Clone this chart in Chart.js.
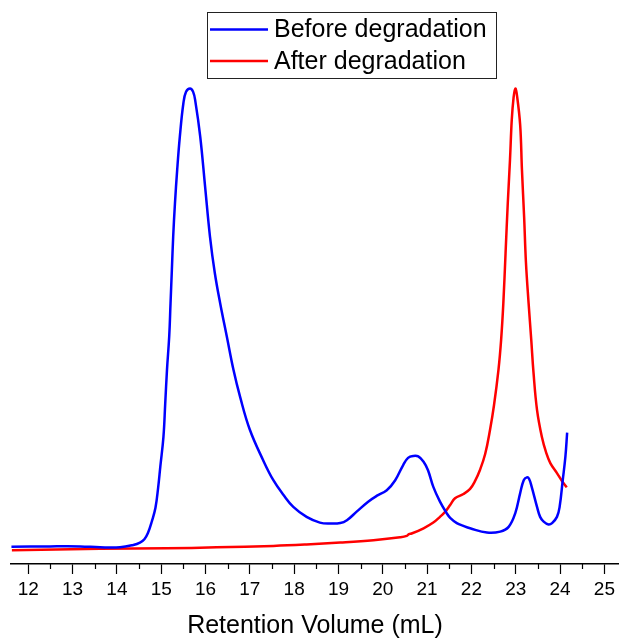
<!DOCTYPE html>
<html>
<head>
<meta charset="utf-8">
<script src="https://cdn.jsdelivr.net/npm/chart.js@4/dist/chart.umd.min.js"></script>
<style>
  html,body{margin:0;padding:0;background:#fff}
  #wrap{position:relative;width:619px;height:641px}
</style>
</head>
<body>
<div id="wrap"><canvas id="c" width="619" height="641"></canvas></div>
<script>
/* GPC traces before / after degradation.
   y is normalised detector response (peak ~1). */
const xTicks = [12, 13, 14, 15, 16, 17, 18, 19, 20, 21, 22, 23, 24, 25];
const seriesNames = ["Before degradation", "After degradation"];

const beforeX = [11.62, 12.49, 13.17, 13.62, 14.07, 14.37, 14.52, 14.62, 14.70, 14.79, 14.87, 14.93, 14.98, 15.05,
  15.09, 15.13, 15.18, 15.21, 15.24, 15.27, 15.31, 15.36, 15.42, 15.50, 15.56, 15.65, 15.72, 15.77, 15.88, 15.99,
  16.10, 16.21, 16.33, 16.48, 16.63, 16.78, 17.00, 17.30, 17.53, 17.76, 17.98, 18.28, 18.58, 18.81, 19.04, 19.19,
  19.41, 19.67, 19.86, 20.09, 20.28, 20.46, 20.57, 20.69, 20.80, 20.92, 21.02, 21.14, 21.29, 21.44, 21.52, 21.67,
  21.82, 21.97, 22.35, 22.65, 22.84, 22.99, 23.10, 23.18, 23.25, 23.30, 23.36, 23.48, 23.55, 23.63, 23.74, 23.82,
  23.93, 23.99, 24.06, 24.12, 24.16];
const beforeY = [0.036, 0.037, 0.037, 0.035, 0.035, 0.040, 0.045, 0.052, 0.065, 0.090, 0.118, 0.160, 0.205, 0.267,
  0.337, 0.408, 0.478, 0.548, 0.618, 0.688, 0.758, 0.828, 0.898, 0.968, 0.992, 0.999, 0.992, 0.972, 0.898, 0.793,
  0.688, 0.611, 0.548, 0.478, 0.408, 0.351, 0.282, 0.218, 0.176, 0.145, 0.120, 0.099, 0.087, 0.085, 0.086, 0.092,
  0.110, 0.131, 0.143, 0.155, 0.176, 0.208, 0.223, 0.227, 0.226, 0.215, 0.197, 0.162, 0.131, 0.107, 0.097, 0.086,
  0.080, 0.075, 0.066, 0.068, 0.078, 0.107, 0.149, 0.176, 0.182, 0.179, 0.162, 0.120, 0.099, 0.089, 0.083, 0.086,
  0.099, 0.120, 0.176, 0.225, 0.276];

const afterX = [11.63, 13.62, 15.12, 16.25, 17.53, 18.28, 19.04, 19.79, 20.39, 20.54, 20.59, 20.65, 20.92, 21.14,
  21.29, 21.41, 21.52, 21.63, 21.82, 21.97, 22.08, 22.19, 22.31, 22.42, 22.51, 22.61, 22.67, 22.72, 22.77, 22.82,
  22.87, 22.91, 22.95, 22.99, 23.03, 23.10, 23.14, 23.19, 23.23, 23.29, 23.35, 23.40, 23.48, 23.59, 23.69, 23.78,
  23.93, 24.04, 24.15];
const afterY = [0.029, 0.032, 0.033, 0.035, 0.038, 0.041, 0.045, 0.050, 0.056, 0.059, 0.063, 0.064, 0.075, 0.087,
  0.099, 0.110, 0.124, 0.138, 0.147, 0.158, 0.174, 0.197, 0.231, 0.282, 0.334, 0.408, 0.471, 0.548, 0.653, 0.758,
  0.849, 0.933, 0.979, 0.999, 0.983, 0.922, 0.828, 0.727, 0.634, 0.548, 0.471, 0.403, 0.324, 0.267, 0.233, 0.212,
  0.191, 0.175, 0.161];

const pts = (xs, ys) => xs.map((x, i) => ({ x, y: ys[i] }));
const FONT = "'Liberation Sans', Arial, sans-serif";

// minor ticks at the half-steps, drawn against the x scale
const minorTicks = {
  id: "minorTicks",
  afterDraw(chart) {
    const sc = chart.scales.x, ctx = chart.ctx, y0 = chart.chartArea.bottom;
    ctx.save();
    ctx.strokeStyle = "#000"; ctx.lineWidth = 1.2;
    xTicks.forEach(v => {
      const m = v - 0.5;
      if (m < sc.min) return;
      const px = Math.round(sc.getPixelForValue(m)) + 0.5;
      ctx.beginPath(); ctx.moveTo(px, y0); ctx.lineTo(px, y0 + 5); ctx.stroke();
    });
    ctx.restore();
  },
};

// boxed legend in the top middle
const boxLegend = {
  id: "boxLegend",
  afterDraw(chart) {
    const ctx = chart.ctx;
    const cols = chart.data.datasets.map(d => d.borderColor);
    ctx.save();
    ctx.fillStyle = "#fff";
    ctx.fillRect(207, 12, 289, 66);
    ctx.strokeStyle = "#222"; ctx.lineWidth = 1;
    ctx.strokeRect(207.5, 12.5, 289, 66);
    ctx.font = "25px " + FONT;
    ctx.textBaseline = "middle";
    seriesNames.forEach((name, i) => {
      const y = 29.5 + i * 31.5;
      ctx.strokeStyle = cols[i]; ctx.lineWidth = 2.5;
      ctx.beginPath(); ctx.moveTo(210, y); ctx.lineTo(268, y); ctx.stroke();
      ctx.fillStyle = "#000";
      ctx.fillText(name, 274, y + 1);
    });
    ctx.restore();
  },
};

new Chart(document.getElementById("c"), {
  type: "line",
  data: {
    datasets: [
      { label: seriesNames[0], data: pts(beforeX, beforeY), borderColor: "#0000ff", borderWidth: 2.5,
        pointRadius: 0, fill: false, tension: 0.4 },
      { label: seriesNames[1], data: pts(afterX, afterY), borderColor: "#ff0000", borderWidth: 2.5,
        pointRadius: 0, fill: false, tension: 0.4 },
    ],
  },
  options: {
    responsive: false, animation: false,
    layout: { padding: { left: 11, right: 0, top: 0, bottom: 0 } },
    plugins: { legend: { display: false }, tooltip: { enabled: false } },
    scales: {
      x: {
        type: "linear", min: 11.61, max: 25.33,
        afterBuildTicks(sc) { sc.ticks = xTicks.map(v => ({ value: v })); },
        afterFit(sc) { sc.height = 77; },
        border: { display: true, color: "#000", width: 1.4 },
        grid: { drawOnChartArea: false, drawTicks: true, tickLength: 10, tickColor: "#000", tickWidth: 1.2 },
        ticks: { color: "#000", font: { family: FONT, size: 19 }, padding: 4, maxRotation: 0, autoSkip: false },
        title: { display: true, text: "Retention Volume (mL)", color: "#000",
                 font: { family: FONT, size: 25 }, padding: { top: 0, bottom: 0 } },
      },
      y: { display: false, min: 0, max: 1.185 },
    },
  },
  plugins: [minorTicks, boxLegend],
});
</script>
</body>
</html>
